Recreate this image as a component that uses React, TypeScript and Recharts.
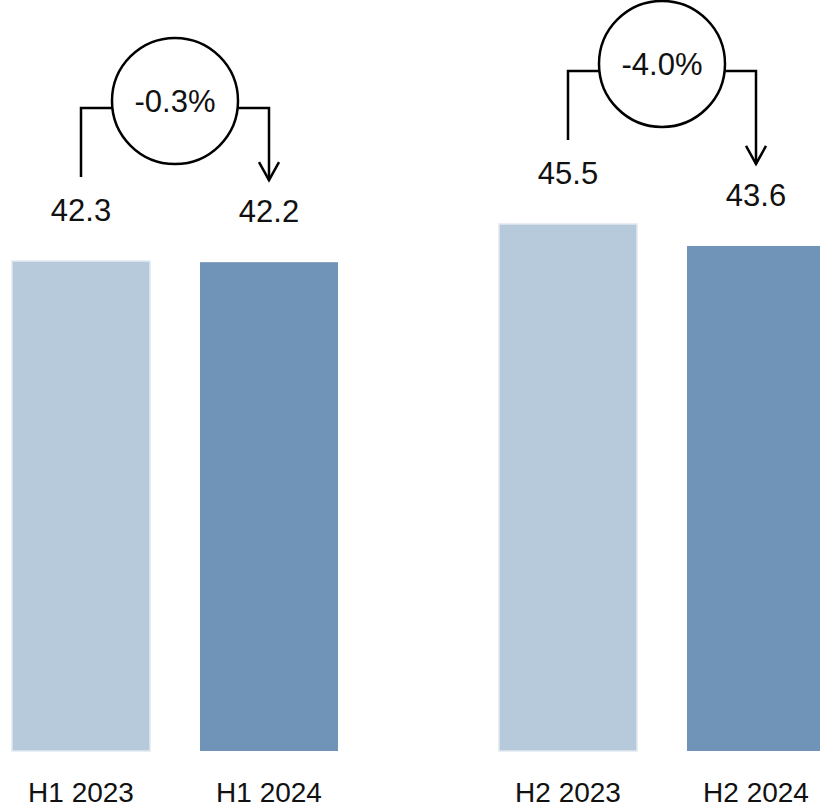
import React from "react";
import { BarChart, Bar, XAxis, YAxis } from "recharts";

const halves = ["H1", "H2"];
const years = ["2023", "2024"];
const values2023 = [42.3, 45.5];
const values2024 = [42.2, 43.6];
const changeLabels = ["-0.3%", "-4.0%"];

const data = halves.map((h, i) => ({
  half: h,
  y2023: values2023[i],
  y2024: values2024[i],
}));

const FONT = "'Liberation Sans', Arial, sans-serif";
const LIGHT = "#B7CADB";
const DARK = "#6F94B7";
const BAR_SIZE = 138;
const BAR_GAP = 50;
const VALUE_FONT = 31;
const CAT_FONT = 28;

function BarWithLabels(props: any, yearIdx: number) {
  const { x, y, width, height, index } = props;
  const val = yearIdx === 0 ? values2023[index] : values2024[index];
  const cx = x + width / 2;
  const base = y + height;
  const elems: any[] = [];
  elems.push(
    <rect
      key="r"
      x={x}
      y={y}
      width={width}
      height={height}
      fill={yearIdx === 0 ? LIGHT : DARK}
      stroke={yearIdx === 0 ? "#E2E9F0" : "none"}
      strokeWidth={1.5}
    />
  );
  elems.push(
    <text
      key="v"
      x={cx}
      y={y - 40}
      textAnchor="middle"
      fontFamily={FONT}
      fontSize={VALUE_FONT}
      fill="#111"
    >
      {val.toFixed(1)}
    </text>
  );
  elems.push(
    <text
      key="c"
      x={cx}
      y={base + 51}
      textAnchor="middle"
      fontFamily={FONT}
      fontSize={CAT_FONT}
      fill="#111"
    >
      {`${halves[index]} ${years[yearIdx]}`}
    </text>
  );
  if (yearIdx === 1) {
    const v23 = values2023[index];
    const v24 = values2024[index];
    const top24 = y;
    const top23 = base - (height * v23) / v24;
    const x24 = cx;
    const x23 = cx - width - BAR_GAP;
    const bracketY = Math.min(top23, top24) - 153;
    const leftEnd = top23 - 84;
    const tipY = top24 - 82;
    const ccx = (x23 + x24) / 2;
    const ccy = bracketY - 7;
    const r = 63;
    const sw = 2.5;
    elems.push(
      <g key="b" stroke="#000" strokeWidth={sw} fill="none">
        <polyline points={`${x23},${leftEnd} ${x23},${bracketY} ${ccx - r},${bracketY}`} />
        <polyline points={`${ccx + r},${bracketY} ${x24},${bracketY} ${x24},${tipY}`} />
        <polyline points={`${x24 - 10},${tipY - 18} ${x24},${tipY} ${x24 + 10},${tipY - 18}`} />
        <circle cx={ccx} cy={ccy} r={r} fill="#fff" />
      </g>
    );
    elems.push(
      <text
        key="p"
        x={ccx}
        y={ccy}
        dy="0.36em"
        textAnchor="middle"
        fontFamily={FONT}
        fontSize={VALUE_FONT}
        fill="#111"
      >
        {changeLabels[index]}
      </text>
    );
  }
  return <g>{elems}</g>;
}

export default function App() {
  return (
    <div
      style={{
        position: "absolute",
        left: 0,
        top: 0,
        width: 820,
        height: 811,
        overflow: "hidden",
        background: "#fff",
      }}
    >
      <div style={{ position: "absolute", left: -69, top: 0 }}>
        <BarChart
          width={974}
          height={811}
          data={data}
          margin={{ top: 56, right: 0, bottom: 60, left: 0 }}
          barGap={BAR_GAP}
        >
          <XAxis dataKey="half" hide />
          <YAxis hide domain={[0, 60]} />
          <Bar
            dataKey="y2023"
            barSize={BAR_SIZE}
            fill={LIGHT}
            isAnimationActive={false}
            shape={(p: any) => BarWithLabels(p, 0)}
          />
          <Bar
            dataKey="y2024"
            barSize={BAR_SIZE}
            fill={DARK}
            isAnimationActive={false}
            shape={(p: any) => BarWithLabels(p, 1)}
          />
        </BarChart>
      </div>
    </div>
  );
}
